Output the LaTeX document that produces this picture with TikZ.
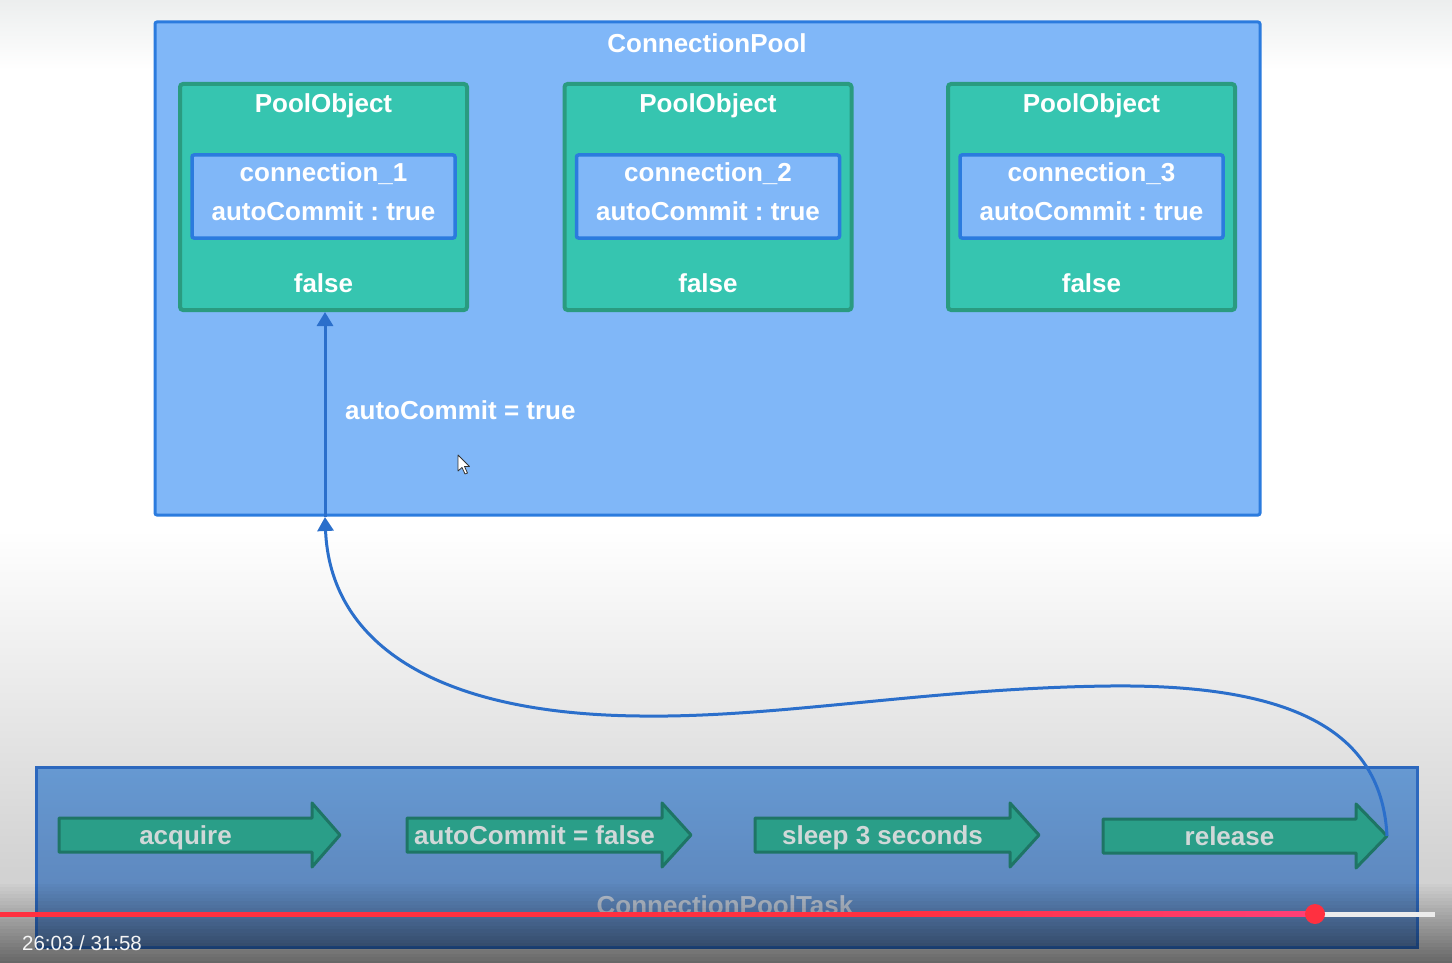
\documentclass[tikz,border=0pt]{standalone}
\usepackage{fontspec}
\setmainfont{Liberation Sans}
\usetikzlibrary{arrows.meta}
\definecolor{bgtop}{HTML}{ECEEEE}
\definecolor{bglow}{HTML}{D2D2D2}
\definecolor{poolfill}{HTML}{80B7F8}
\definecolor{poolborder}{HTML}{2B7BDE}
\definecolor{objfill}{HTML}{36C5B0}
\definecolor{objborder}{HTML}{2A9B80}
\definecolor{taskfill}{HTML}{2A9E88}
\definecolor{taskborder}{HTML}{1E7565}
\definecolor{tasktxt}{HTML}{D0D8D8}
\definecolor{boxtop}{HTML}{6699D2}
\definecolor{boxbot}{HTML}{5A80B5}
\definecolor{boxborder}{HTML}{2C68BE}
\definecolor{curvecol}{HTML}{2B6FCB}
\definecolor{ytred}{HTML}{FF3040}
\definecolor{ytpink}{HTML}{FF3F78}
\definecolor{titletask}{HTML}{B8C2D0}
\frenchspacing
\newcommand\taskarrow[6]{%
  \draw[tarrow] (#2,#3-17) -- (#4,#3-17) -- (#4,#3-32) -- (#5,#3) -- (#4,#3+32) -- (#4,#3+17) -- (#2,#3+17) -- cycle;
  \node[tasktext] (#1) at ({(#2+#4)/2},#3+9) {#6};
}
\begin{document}
\begin{tikzpicture}[x=1pt,y=-1pt,
  big/.style={font=\bfseries\fontsize{26}{30}\selectfont},
  txt/.style={big, anchor=base, text=white, inner sep=0pt},
  poolbox/.style={draw=poolborder, fill=poolfill, line width=3pt, rounded corners=2pt, inner sep=0pt},
  objbox/.style={draw=objborder, fill=objfill, line width=4pt, rounded corners=3pt, inner sep=0pt, minimum width=287pt, minimum height=226pt},
  connbox/.style={draw=poolborder, fill=poolfill, line width=3.5pt, rounded corners=2pt, inner sep=0pt, minimum width=263pt, minimum height=83pt},
  taskbox/.style={draw=boxborder, top color=boxtop, bottom color=boxbot, line width=3pt, inner sep=0pt},
  tarrow/.style={fill=taskfill, draw=taskborder, line width=3pt, line join=round},
  tasktext/.style={big, anchor=base, text=tasktxt, inner sep=0pt},
  link/.style={draw=curvecol, line width=3pt, -{Triangle[length=14pt,width=16pt]}}
]
\useasboundingbox (0,0) rectangle (1452,963);
% background
\fill[top color=bgtop, bottom color=white] (0,0) rectangle (1452,70);
\fill[white] (0,70) rectangle (1452,530);
\fill[top color=white, bottom color=bglow] (0,530) rectangle (1452,870);
\fill[bglow] (0,870) rectangle (1452,963);

% connection pool
\node[poolbox, minimum width=1105pt, minimum height=493pt] (pool) at (707.5,268.5) {};
\node[txt] (pooltitle) at (707,53) {ConnectionPool};

\foreach \i/\x in {1/323.5, 2/708, 3/1091.5} {
  \node[objbox] (po\i) at (\x,197) {};
  \node[txt] (pot\i) at (\x,113) {PoolObject};
  \node[connbox] (cb\i) at (\x,196.5) {};
  \node[txt] (cn\i) at (\x,182) {connection\_\i};
  \node[txt] (ac\i) at (\x,220) {autoCommit : true};
  \node[txt] (fl\i) at (\x,292) {false};
}

\coordinate (poolin) at (325,517);
\draw[link] (poolin) -- (poolin |- po1.south);
\node[txt, anchor=base west] (actrue) at (345,419) {autoCommit = true};

% mouse cursor
\draw[fill=white, draw=black!80, line width=0.8pt, line join=round]
  (458,455) -- (458,471) -- (462,467.5) -- (465,474) -- (467.5,473) -- (464.5,466.5) -- (469.5,466.5) -- cycle;

% task box
\node[taskbox, minimum width=1381pt, minimum height=180pt] (task) at (726.5,857) {};
\node[tasktext, text=titletask] (tasktitle) at (725,914) {ConnectionPoolTask};

\taskarrow{acq}{59}{835}{312}{340}{acquire}
\taskarrow{acf}{407}{835}{662}{691}{autoCommit = false}
\taskarrow{slp}{755}{835}{1010}{1039}{sleep 3 seconds}
\taskarrow{rel}{1103}{836}{1356}{1387}{release}

\coordinate (reltip) at (1387,836);
\draw[link] (reltip) .. controls (1382,735) and (1300,684) .. (1110,686)
  .. controls (930,688) and (780,718) .. (640,716)
  .. controls (430,714) and (330,640) .. (poolin);

% video overlay (darkening towards the bottom)
\foreach \k in {0,...,23} {
  \fill[black, opacity={0.022*\k}] (0,{880+\k*3.5}) rectangle (1452,{880+(\k+1)*3.5+0.3});
}

% progress bar
\fill[ytred] (0,911.5) rectangle (900,916.5);
\fill[left color=ytred, right color=ytpink] (900,911.5) rectangle (1315,916.5);
\fill[white!85!gray] (1315,911.5) rectangle (1435,916.5);
\fill[ytred] (1315,914) circle (10);
\node[anchor=base west, inner sep=0pt, text=white!92!gray, font=\fontsize{20.5}{24}\selectfont] (time) at (22,950) {26:03 / 31:58};
\end{tikzpicture}
\end{document}
